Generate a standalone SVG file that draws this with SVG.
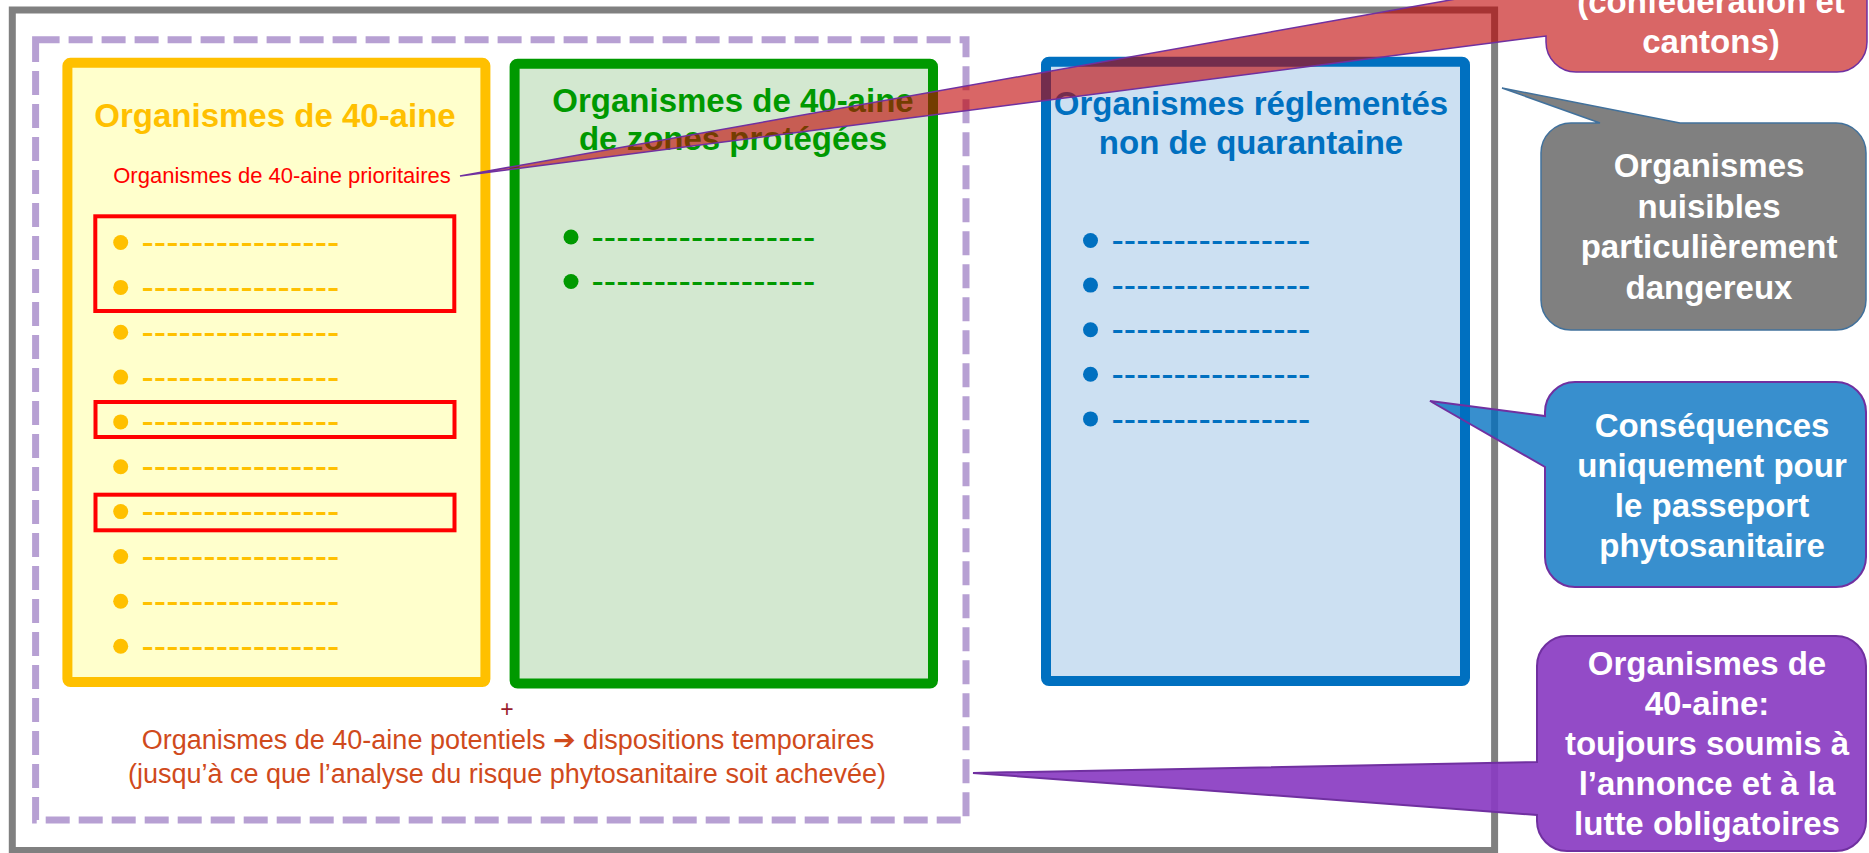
<svg xmlns="http://www.w3.org/2000/svg" width="1869" height="853" viewBox="0 0 1869 853">
<defs>
<style>
text{font-family:"Liberation Sans",Arial,"DejaVu Sans",sans-serif;}
.t{font-size:33px;font-weight:bold;text-anchor:middle;}
.w{fill:#ffffff;}
.dash{font-size:37px;}
.y{fill:#FFC000;}
.g{fill:#009900;}
.b{fill:#0070C0;}
.redbox{fill:none;stroke:#FF0000;stroke-width:4;}
.bot{font-size:27px;fill:#D04A1C;text-anchor:middle;}
</style>
</defs>
<rect width="1869" height="853" fill="#ffffff"/>
<g id="frame">
<rect x="12.3" y="10" width="1482.3" height="840.5" fill="none" stroke="#808080" stroke-width="7"/>
</g>
<g id="quarantine-group">
<rect x="35.6" y="39.7" width="930.4" height="780.3" fill="none" stroke="#B7A0D3" stroke-width="7" stroke-dasharray="24 9"/>
</g>
<g id="box-quarantaine">
<rect x="67.4" y="62.8" width="418" height="619.2" rx="3" fill="#FFFFCC" stroke="#FFC000" stroke-width="10"/>
<text class="t y" x="275" y="126.7">Organismes de 40-aine</text>
<text x="282" y="183" font-size="22" fill="#FF0000" text-anchor="middle">Organismes de 40-aine prioritaires</text>
<rect class="redbox" x="95.3" y="216.3" width="359" height="94.7"/>
<rect class="redbox" x="95.5" y="402" width="359" height="35"/>
<rect class="redbox" x="95.5" y="494.7" width="359" height="35.6"/>
<g class="y">
<circle cx="120.7" cy="242.5" r="7.5"/><circle cx="120.7" cy="287.4" r="7.5"/><circle cx="120.7" cy="332.2" r="7.5"/><circle cx="120.7" cy="377.1" r="7.5"/><circle cx="120.7" cy="421.9" r="7.5"/><circle cx="120.7" cy="466.8" r="7.5"/><circle cx="120.7" cy="511.6" r="7.5"/><circle cx="120.7" cy="556.5" r="7.5"/><circle cx="120.7" cy="601.3" r="7.5"/><circle cx="120.7" cy="646.2" r="7.5"/>
<text class="dash" x="141.4" y="254" textLength="198" lengthAdjust="spacing">----------------</text>
<text class="dash" x="141.4" y="298.9" textLength="198" lengthAdjust="spacing">----------------</text>
<text class="dash" x="141.4" y="343.7" textLength="198" lengthAdjust="spacing">----------------</text>
<text class="dash" x="141.4" y="388.6" textLength="198" lengthAdjust="spacing">----------------</text>
<text class="dash" x="141.4" y="433.4" textLength="198" lengthAdjust="spacing">----------------</text>
<text class="dash" x="141.4" y="478.3" textLength="198" lengthAdjust="spacing">----------------</text>
<text class="dash" x="141.4" y="523.1" textLength="198" lengthAdjust="spacing">----------------</text>
<text class="dash" x="141.4" y="568" textLength="198" lengthAdjust="spacing">----------------</text>
<text class="dash" x="141.4" y="612.8" textLength="198" lengthAdjust="spacing">----------------</text>
<text class="dash" x="141.4" y="657.7" textLength="198" lengthAdjust="spacing">----------------</text>
</g>
</g>
<g id="box-zones-protegees">
<rect x="514.6" y="63.7" width="418.4" height="619.8" rx="3" fill="#D3E8D0" stroke="#009900" stroke-width="10"/>
<text class="t g" x="733" y="111.7">Organismes de 40-aine</text>
<text class="t g" x="733" y="150">de zones protégées</text>
<g class="g">
<circle cx="571" cy="237" r="7.5"/><circle cx="571" cy="281.5" r="7.5"/>
<text class="dash" x="591.4" y="248.7" textLength="224" lengthAdjust="spacing">------------------</text>
<text class="dash" x="591.4" y="293.2" textLength="224" lengthAdjust="spacing">------------------</text>
</g>
</g>
<g id="box-ornq">
<rect x="1046" y="61.7" width="419" height="619.3" rx="3" fill="#CCE0F2" stroke="#0070C0" stroke-width="10"/>
<text class="t b" x="1251" y="115">Organismes réglementés</text>
<text class="t b" x="1251" y="154">non de quarantaine</text>
<g class="b">
<circle cx="1090.5" cy="240.5" r="7.5"/><circle cx="1090.5" cy="285.1" r="7.5"/><circle cx="1090.5" cy="329.7" r="7.5"/><circle cx="1090.5" cy="374.3" r="7.5"/><circle cx="1090.5" cy="418.9" r="7.5"/>
<text class="dash" x="1111.4" y="252.2" textLength="199" lengthAdjust="spacing">----------------</text>
<text class="dash" x="1111.4" y="296.8" textLength="199" lengthAdjust="spacing">----------------</text>
<text class="dash" x="1111.4" y="341.4" textLength="199" lengthAdjust="spacing">----------------</text>
<text class="dash" x="1111.4" y="386" textLength="199" lengthAdjust="spacing">----------------</text>
<text class="dash" x="1111.4" y="430.6" textLength="199" lengthAdjust="spacing">----------------</text>
</g>
</g>
<g id="potentiels">
<text x="507" y="716.5" font-size="23" fill="#991C2C" text-anchor="middle">+</text>
<text class="bot" x="508" y="749.3">Organismes de 40-aine potentiels ➔ dispositions temporaires</text>
<text class="bot" x="507" y="782.7">(jusqu’à ce que l’analyse du risque phytosanitaire soit achevée)</text>
</g>
<g id="connectors"></g>
<g id="callout-cantons">
<path d="M1576,-40 H1837 A30,30 0 0 1 1867,-10 V42 A30,30 0 0 1 1837,72 H1576 A30,30 0 0 1 1546,42 V36 L460,176 L1546,-17 V-10 A30,30 0 0 1 1576,-40 Z" fill="#C00000" fill-opacity="0.6" stroke="#7030A0" stroke-width="1.5"/>
<text class="t w" x="1711" y="13.3">(confédération et</text>
<text class="t w" x="1711" y="53.3">cantons)</text>
</g>
<g id="callout-dangereux">
<path d="M1571,123 H1600 L1502,88 L1680,123 H1836 A30,30 0 0 1 1866,153 V300 A30,30 0 0 1 1836,330 H1571 A30,30 0 0 1 1541,300 V153 A30,30 0 0 1 1571,123 Z" fill="#808080" stroke="#41719C" stroke-width="1.5"/>
<text class="t w" x="1709" y="177">Organismes</text>
<text class="t w" x="1709" y="217.5">nuisibles</text>
<text class="t w" x="1709" y="258">particulièrement</text>
<text class="t w" x="1709" y="298.5">dangereux</text>
</g>
<g id="callout-passeport">
<path d="M1575,382 H1836 A30,30 0 0 1 1866,412 V557 A30,30 0 0 1 1836,587 H1575 A30,30 0 0 1 1545,557 V467 L1430,401 L1545,416 V412 A30,30 0 0 1 1575,382 Z" fill="#0070C0" fill-opacity="0.78" stroke="#7030A0" stroke-width="2"/>
<text class="t w" x="1712" y="436.7">Conséquences</text>
<text class="t w" x="1712" y="476.7">uniquement pour</text>
<text class="t w" x="1712" y="516.7">le passeport</text>
<text class="t w" x="1712" y="556.7">phytosanitaire</text>
</g>
<g id="callout-lutte">
<path d="M1567,636 H1836 A30,30 0 0 1 1866,666 V821 A30,30 0 0 1 1836,851 H1567 A30,30 0 0 1 1537,821 V815 L973,773 L1537,762 V666 A30,30 0 0 1 1567,636 Z" fill="#8A3CC2" fill-opacity="0.92" stroke="#7030A0" stroke-width="2"/>
<text class="t w" x="1707" y="675">Organismes de</text>
<text class="t w" x="1707" y="715">40-aine:</text>
<text class="t w" x="1707" y="755">toujours soumis à</text>
<text class="t w" x="1707" y="795">l’annonce et à la</text>
<text class="t w" x="1707" y="835">lutte obligatoires</text>
</g>
</svg>
